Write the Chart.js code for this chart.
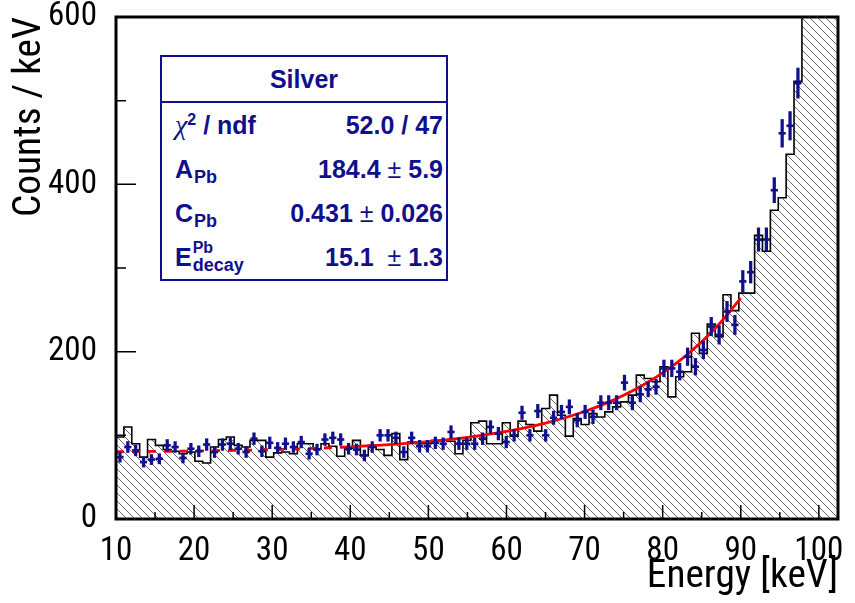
<!DOCTYPE html>
<html>
<head>
<meta charset="utf-8">
<script src="https://cdn.jsdelivr.net/npm/chart.js@4.4.1/dist/chart.umd.min.js"></script>
<style>
  html, body { margin: 0; padding: 0; background: #ffffff; }
  #wrap { position: relative; width: 855px; height: 603px; overflow: hidden; }
  #c { position: absolute; left: 0; top: 0; }
  #stats {
    position: absolute; left: 160px; top: 55px; width: 284px; height: 222px;
    border: 2px solid #10108c; background: #ffffff; color: #10108c;
    font-family: 'Liberation Sans', Arial, sans-serif; font-weight: bold; font-size: 25px;
  }
  #stats .hdr { height: 44px; line-height: 44px; text-align: center; border-bottom: 2px solid #10108c; }
  #stats .row { height: 44px; display: flex; align-items: center; justify-content: space-between; padding: 0 3px 0 13px; white-space: nowrap; }
  #stats .chi { font-family: 'Liberation Serif', 'DejaVu Serif', serif; font-style: italic; font-weight: normal; font-size: 28px; }
  #stats .sup2 { font-size: 16px; position: relative; top: -9px; }
  #stats .sub { font-size: 18px; position: relative; top: 5px; margin-left: 1px; }
  #stats .pm { font-weight: normal; }
  #stats .stk { position: relative; display: inline-block; }
  #stats .s1 { position: absolute; left: 1px; top: -4px; font-size: 16px; }
  #stats .s2 { font-size: 18px; position: relative; top: 5px; margin-left: 1px; }
</style>
</head>
<body>
<div id="wrap">
  <canvas id="c" width="855" height="603"></canvas>
  <div id="stats">
    <div class="hdr">Silver</div>
    <div class="row"><span><span class="chi">χ</span><span class="sup2">2</span> / ndf</span><span>52.0 / 47</span></div>
    <div class="row"><span>A<span class="sub">Pb</span></span><span>184.4 <span class="pm">±</span> 5.9</span></div>
    <div class="row"><span>C<span class="sub">Pb</span></span><span>0.431 <span class="pm">±</span> 0.026</span></div>
    <div class="row"><span>E<span class="stk"><span class="s1">Pb</span><span class="s2">decay</span></span></span><span>15.1&nbsp; <span class="pm">±</span> 1.3</span></div>
  </div>
</div>
<script>
// ---------------- data ----------------
// histogram (hatched): bin edges in keV (bins ~1.01 keV wide), one count per bin
const histEdges = [10.00,11.01,12.02,13.03,14.04,15.05,16.06,17.07,18.08,19.09,
  20.10,21.10,22.11,23.12,24.13,25.14,26.15,27.16,28.17,29.18,
  30.19,31.20,32.21,33.22,34.23,35.24,36.25,37.26,38.27,39.28,
  40.29,41.29,42.30,43.31,44.32,45.33,46.34,47.35,48.36,49.37,
  50.38,51.39,52.40,53.41,54.42,55.43,56.44,57.45,58.46,59.47,
  60.48,61.48,62.49,63.50,64.51,65.52,66.53,67.54,68.55,69.56,
  70.57,71.58,72.59,73.60,74.61,75.62,76.63,77.64,78.65,79.66,
  80.67,81.67,82.68,83.69,84.70,85.71,86.72,87.73,88.74,89.75,
  90.76,91.77,92.78,93.79,94.80,95.81,96.82,97.83,98.84,99.85,
  100.86,101.86,102.87];
const histCounts = [98,110,90,74,95,88,83,81,78,80,
  69,67,86,95,98,88,86,94,94,74,
  79,80,78,90,90,84,90,87,75,85,
  94,76,88,83,76,102,71,92,90,90,
  94,94,93,78,94,115,117,90,90,115,
  99,117,113,105,132,148,124,99,120,113,
  126,122,128,134,140,148,172,168,164,182,
  146,170,176,222,198,233,218,268,249,270,
  270,339,320,369,384,436,523,640,700,760,
  830,900];

// data points (blue crosses) at the bin centres
const pointEnergy = [10.51,11.51,12.52,13.53,14.54,15.55,16.56,17.57,18.58,19.59,
  20.60,21.61,22.62,23.63,24.64,25.65,26.66,27.67,28.68,29.69,
  30.70,31.70,32.71,33.72,34.73,35.74,36.75,37.76,38.77,39.78,
  40.79,41.80,42.81,43.82,44.83,45.84,46.85,47.86,48.87,49.88,
  50.89,51.89,52.90,53.91,54.92,55.93,56.94,57.95,58.96,59.97,
  60.98,61.99,63.00,64.01,65.02,66.03,67.04,68.05,69.06,70.07,
  71.08,72.08,73.09,74.10,75.11,76.12,77.13,78.14,79.15,80.16,
  81.17,82.18,83.19,84.20,85.21,86.22,87.23,88.24,89.25,90.26,
  91.27,92.27,93.28,94.29,95.30,96.31,97.32];
const pointCounts = [74,86,82,68,71,72,88,86,73,84,
  81,89,80,89,90,84,80,96,81,91,
  85,90,86,92,78,83,95,97,95,84,
  83,76,86,100,100,97,80,97,87,87,
  91,90,104,90,90,90,96,110,102,92,
  100,127,100,129,100,121,128,134,118,128,
  122,139,139,139,163,139,149,155,158,180,
  180,176,194,182,202,230,220,248,232,284,
  295,334,334,393,461,470,521];
const pointErrors = [6,6.5,6.5,6,6,6,7,6.5,6,6.5,
  6.5,7,6.5,7,7,6.5,6.5,7,6.5,7,
  6.5,7,6.5,7,6.5,6.5,7,7,7,6.5,
  6.5,6.5,6.5,7,7,7,6.5,7,7,7,
  7,7,7.5,7,7,7,7,7.5,7.5,7,
  7,8,7,8,7,8,8,8.5,8,8,
  8,8.5,8.5,8.5,9,8.5,9,9,9,10,
  10,10,10.5,10,10.5,11,11,12,11.5,13,
  13,14,14,15,16.5,17,18];

// fit curve (red)
const fitEnergy = [10,15,20,25,30,35,40,45,50,55,60,62.5,65,67.5,70,72.5,75,77.5,80,82.5,85,87.5,90];
const fitCounts = [80.4,80.8,81.3,82.0,82.9,84.3,86.2,88.8,92.5,97.6,104.8,109.3,114.7,121.0,128.5,137.3,147.8,160.1,174.6,191.7,211.9,235.7,263.9];

// axes
const xTickLabels = [10,20,30,40,50,60,70,80,90,100];
const xMinorTicks = [15,25,35,45,55,65,75,85,95];
const yTickLabels = [0,200,400,600];
const yMinorTicks = [100,300,500];

// ---------------- styling ----------------
const NAVY = '#10108c';

// choose a narrow sans face if one is installed, else Liberation Sans; size to the reference text widths
function pickFont() {
  const m = document.createElement('canvas').getContext('2d');
  const probe = 'Energy [keV] 0123456789';
  const w = f => { m.font = f; return m.measureText(probe).width; };
  const base = w("normal 40px 'Liberation Sans'");
  const cands = [
    {weight: 'normal', family: "'Liberation Sans Narrow'"},
    {weight: 'normal', family: "'DejaVu Sans Condensed'"},
    {weight: 'condensed', family: "'DejaVu Sans'"},
    {weight: 'condensed', family: "'Noto Sans'"},
    {weight: 'normal', family: "'Roboto Condensed'"},
    {weight: 'condensed', family: "Roboto"},
    {weight: 'condensed', family: "'Open Sans'"}
  ];
  for (const c of cands) {
    const avail = w(`40px ${c.family}, monospace`) !== w('40px monospace') &&
                  w(`40px ${c.family}, serif`) !== w('40px serif');
    if (!avail) continue;
    const cw = w(`${c.weight} 40px ${c.family}, monospace`);
    const nw = w(`normal 40px ${c.family}, monospace`);
    if (cw < base * 0.9 && (c.weight === 'normal' || cw < nw * 0.95)) return c;
  }
  return {weight: 'normal', family: "'Liberation Sans'"};
}
const FONT = pickFont();
function sizeFor(text, targetWidth) {
  const m = document.createElement('canvas').getContext('2d');
  m.font = `${FONT.weight} 100px ${FONT.family}`;
  return Math.round(100 * targetWidth / m.measureText(text).width * 10) / 10;
}
const TICK_SIZE = Math.min(36, sizeFor('600', 49));
const TITLE_SIZE = Math.min(42, sizeFor('Counts / keV', 200));

const canvas = document.getElementById('c');
const ctx0 = canvas.getContext('2d');
function makeHatch() {
  const s = 8;
  const t = document.createElement('canvas');
  t.width = s; t.height = s;
  const g = t.getContext('2d');
  g.strokeStyle = '#6a6a6a';
  g.lineWidth = 1;
  g.beginPath();
  g.moveTo(-1, -1); g.lineTo(s + 1, s + 1);
  g.stroke();
  return ctx0.createPattern(t, 'repeat');
}

const histData = histEdges.map((e, i) => ({x: e, y: histCounts[Math.min(i, histCounts.length - 1)]}));
const errData = pointEnergy.map((e, i) => ({x: e, y: [pointCounts[i] - pointErrors[i], pointCounts[i] + pointErrors[i]]}));
const ptData = pointEnergy.map((e, i) => ({x: e, y: pointCounts[i]}));
const fitData = fitEnergy.map((e, i) => ({x: e, y: fitCounts[i]}));

const frameTicks = {
  id: 'frameTicks',
  afterDatasetsDraw(chart) {
    const {ctx, chartArea: a, scales: {x, y}} = chart;
    ctx.save();
    ctx.strokeStyle = '#000';
    ctx.lineWidth = 1.5;
    ctx.beginPath();
    xTickLabels.forEach(v => { const p = x.getPixelForValue(v); ctx.moveTo(p, a.bottom); ctx.lineTo(p, a.bottom - 14); });
    xMinorTicks.forEach(v => { const p = x.getPixelForValue(v); ctx.moveTo(p, a.bottom); ctx.lineTo(p, a.bottom - 7); });
    yTickLabels.forEach(v => { const p = y.getPixelForValue(v); ctx.moveTo(a.left, p); ctx.lineTo(a.left + 20, p); });
    yMinorTicks.forEach(v => { const p = y.getPixelForValue(v); ctx.moveTo(a.left, p); ctx.lineTo(a.left + 10, p); });
    ctx.stroke();
    ctx.lineWidth = 3;
    ctx.strokeRect(a.left, a.top, a.right - a.left, a.bottom - a.top);
    ctx.restore();
  }
};

new Chart(canvas, {
  type: 'scatter',
  data: {
    datasets: [
      {
        type: 'bar', label: 'err', data: errData, order: 0,
        backgroundColor: NAVY, borderWidth: 0, barThickness: 2.6
      },
      {
        type: 'scatter', label: 'data', data: ptData, order: 0,
        pointStyle: 'line', pointRadius: 3.6, borderColor: NAVY, borderWidth: 2.6, backgroundColor: NAVY
      },
      {
        type: 'line', label: 'fit', data: fitData, order: 1,
        borderColor: '#ff0000', borderWidth: 2.8, pointRadius: 0, fill: false,
        cubicInterpolationMode: 'monotone',
        segment: { borderDash: c => (c.p0.parsed.x < 40 ? [8, 8] : undefined) }
      },
      {
        type: 'line', label: 'hist', data: histData, order: 2,
        stepped: true, borderColor: '#000000', borderWidth: 1.6, pointRadius: 0,
        fill: 'origin', backgroundColor: makeHatch()
      }
    ]
  },
  options: {
    responsive: false,
    animation: false,
    events: [],
    layout: { padding: { top: 17, right: 17, left: 0, bottom: 0 } },
    plugins: { legend: { display: false }, tooltip: { enabled: false } },
    scales: {
      x: {
        type: 'linear', min: 10, max: 102.45, offset: false,
        grid: { display: false, offset: false }, border: { display: false },
        afterBuildTicks: s => { s.ticks = xTickLabels.map(v => ({value: v})); },
        afterFit: s => { s.height = 84; s.paddingLeft = 0; s.paddingRight = 0; },
        ticks: { color: '#000', padding: Math.round(25 - 0.6 * TICK_SIZE), maxRotation: 0, autoSkip: false,
                 font: { family: FONT.family, weight: FONT.weight, size: TICK_SIZE } },
        title: { display: true, text: 'Energy [keV]', align: 'end', color: '#000',
                 font: { family: FONT.family, weight: FONT.weight, size: TITLE_SIZE },
                 padding: { top: 0, bottom: Math.max(0, Math.round(12 - 0.25 * TITLE_SIZE)) } }
      },
      y: {
        type: 'linear', min: 0, max: 600,
        grid: { display: false }, border: { display: false },
        afterBuildTicks: s => { s.ticks = yTickLabels.map(v => ({value: v})); },
        afterFit: s => { s.width = 116; s.paddingTop = 0; s.paddingBottom = 0; },
        ticks: { color: '#000', padding: 11, font: { family: FONT.family, weight: FONT.weight, size: TICK_SIZE } },
        title: { display: true, text: 'Counts / keV', align: 'end', color: '#000',
                 font: { family: FONT.family, weight: FONT.weight, size: TITLE_SIZE },
                 padding: { top: Math.max(0, Math.round(44 - 0.95 * TITLE_SIZE)), bottom: 0 } }
      }
    }
  },
  plugins: [frameTicks]
});
</script>
</body>
</html>
